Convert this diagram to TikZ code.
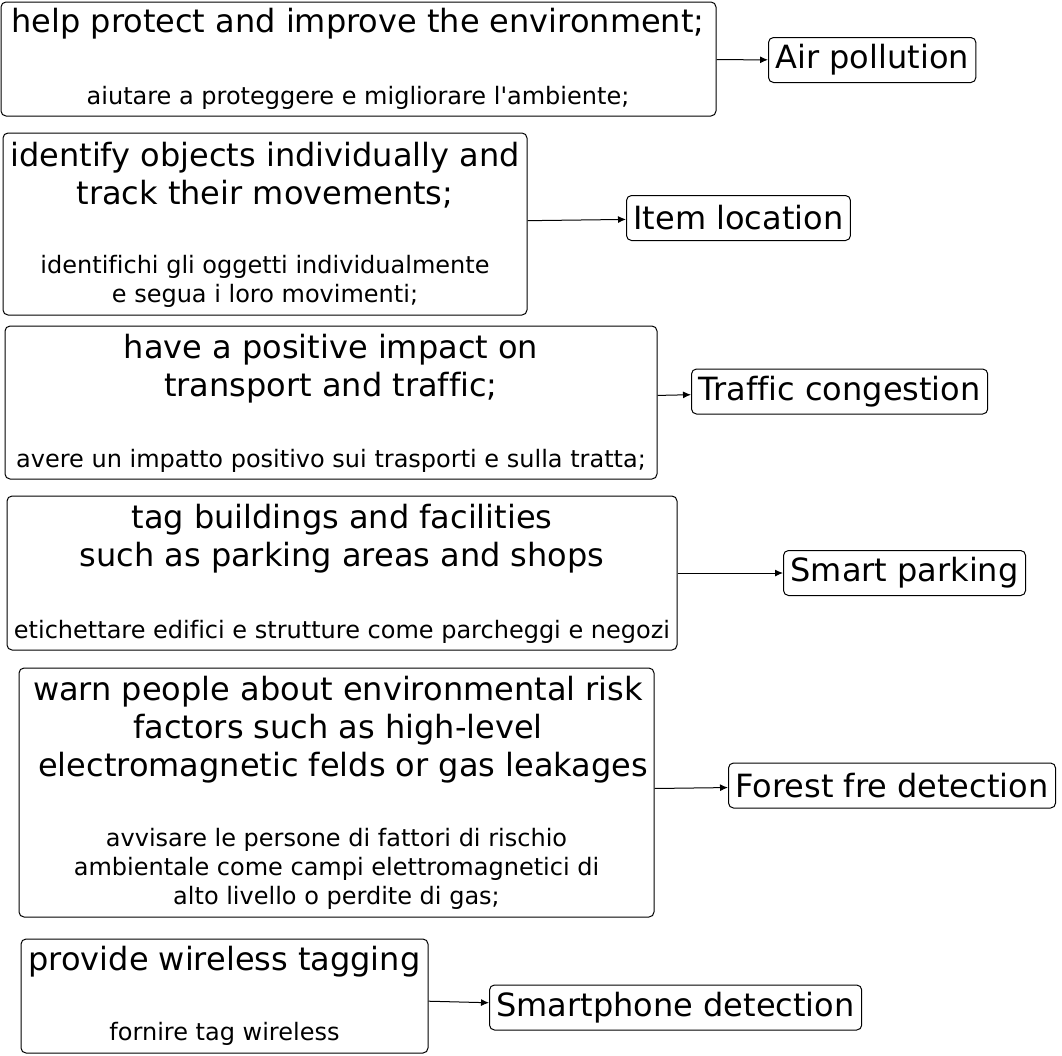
\documentclass[tikz,border=0pt]{standalone}
\usepackage{fontspec}
\setmainfont[Ligatures=CommonOff]{DejaVu Sans}
\usetikzlibrary{arrows.meta,positioning}
\newcommand{\bigtxt}{\fontsize{32}{38}\selectfont}
\newcommand{\smalltxt}{\fontsize{24}{29}\selectfont}

\begin{document}
\begin{tikzpicture}[
  x=1pt, y=-1pt,
  box/.style={draw, rounded corners=5pt, line width=1pt, inner sep=0pt},
  txt/.style={align=center, inner sep=0pt},
  goal/.style={draw, rounded corners=5pt, line width=1pt, font=\bigtxt, inner xsep=7pt, minimum height=45pt, anchor=west},
  arr/.style={-{Latex[length=8pt,width=7pt]}, line width=1pt}
]
\useasboundingbox (0,0) rectangle (1062,1055);
% benefit boxes
\node[box, minimum width=715pt, minimum height=114pt] (env) at (358.5,59) {};
\node[txt, font=\bigtxt] (envA) at (358,24) {help protect and improve the environment;};
\node[txt, font=\smalltxt] (envB) at (358,98) {aiutare a proteggere e migliorare l\textquotesingle ambiente;};

\node[box, minimum width=524pt, minimum height=182pt] (track) at (265,224) {};
\node[txt, font=\bigtxt] (trackA) at (265,175.5) {identify objects individually and\\track their movements;};
\node[txt, font=\smalltxt] (trackB) at (265,281.5) {identifichi gli oggetti individualmente\\e segua i loro movimenti;};

\node[box, minimum width=652pt, minimum height=153pt] (traf) at (331,402.5) {};
\node[txt, font=\bigtxt] (trafA) at (331,369) {have a positive impact on\\transport and traffic;};
\node[txt, font=\smalltxt] (trafB) at (331,461) {avere un impatto positivo sui trasporti e sulla tratta;};

\node[box, minimum width=670pt, minimum height=154pt] (tag) at (342,573) {};
\node[txt, font=\bigtxt] (tagA) at (342,538.5) {tag buildings and facilities\\such as parking areas and shops};
\node[txt, font=\smalltxt] (tagB) at (342,632) {etichettare edifici e strutture come parcheggi e negozi};

\node[box, minimum width=635pt, minimum height=249pt] (warn) at (336.5,792.5) {};
\node[txt, font=\bigtxt] (warnA) at (338,729.5) {warn people about environmental risk\\factors such as high-level\\\ electromagnetic felds or gas leakages};
\node[txt, font=\smalltxt] (warnB) at (336.5,869) {avvisare le persone di fattori di rischio\\ambientale come campi elettromagnetici di\\alto livello o perdite di gas;};

\node[box, minimum width=407pt, minimum height=114pt] (wire) at (224.5,996) {};
\node[txt, font=\bigtxt] (wireA) at (224.5,962) {provide wireless tagging};
\node[txt, font=\smalltxt] (wireB) at (224.5,1034) {fornire tag wireless};

% applications
\node[goal] (air) at (768,60) {Air pollution};
\node[goal] (item) at (626,218) {Item location};
\node[goal] (cong) at (691,391.5) {Traffic congestion};
\node[goal] (park) at (783,573) {Smart parking};
\node[goal] (fire) at (728,785.5) {Forest fre detection};
\node[goal] (phone) at (489,1007.5) {Smartphone detection};

\draw[arr] (env) -- (air);
\draw[arr] (track) -- (item);
\draw[arr] (traf) -- (cong);
\draw[arr] (tag) -- (park);
\draw[arr] (warn) -- (fire);
\draw[arr] (wire) -- (phone);
\end{tikzpicture}
\end{document}
